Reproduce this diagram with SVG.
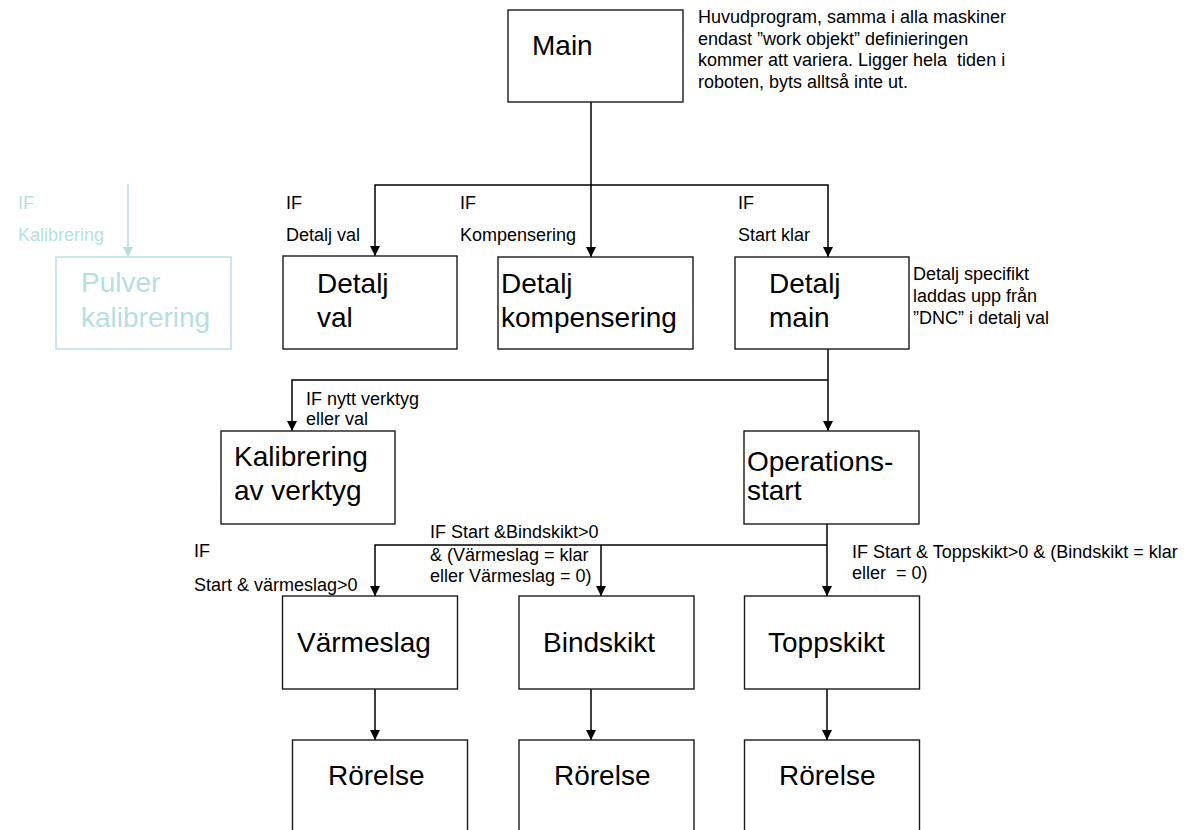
<svg xmlns="http://www.w3.org/2000/svg" width="1187" height="830" viewBox="0 0 1187 830">
  <style>
    .box { fill: #ffffff; stroke: #1a1a1a; stroke-width: 1.4; }
    .box-faint { fill: #ffffff; stroke: #b4dfe3; stroke-width: 1.4; }
    .big { font-family: "Liberation Sans", Arial, sans-serif; font-size: 28px; fill: #000000; }
    .big-faint { font-family: "Liberation Sans", Arial, sans-serif; font-size: 28px; fill: #b4dfe3; }
    .small { font-family: "Liberation Sans", Arial, sans-serif; font-size: 18px; fill: #000000; white-space: pre; }
    .small-faint { font-family: "Liberation Sans", Arial, sans-serif; font-size: 18px; fill: #b4dfe3; }
    .wire { fill: none; stroke: #000000; stroke-width: 1.5; }
    .wire-faint { fill: none; stroke: #b4dfe3; stroke-width: 1.5; }
  </style>
  <defs>
    <marker id="arrow" markerUnits="userSpaceOnUse" markerWidth="10" markerHeight="10" viewBox="0 0 10 10" refX="10" refY="5" orient="auto">
      <path d="M0,0 L10,5 L0,10 Z" fill="#000000"/>
    </marker>
    <marker id="arrow-faint" markerUnits="userSpaceOnUse" markerWidth="10" markerHeight="10" viewBox="0 0 10 10" refX="10" refY="5" orient="auto">
      <path d="M0,0 L10,5 L0,10 Z" fill="#b4dfe3"/>
    </marker>
  </defs>

  <rect width="1187" height="830" fill="#ffffff"/>

  <!-- connectors -->
  <g id="connectors">
    <path class="wire" d="M591,102 V185 H375 V256" marker-end="url(#arrow)"/>
    <path class="wire" d="M591,185 V257" marker-end="url(#arrow)"/>
    <path class="wire" d="M591,185 H828 V257" marker-end="url(#arrow)"/>
    <path class="wire" d="M828,349 V431" marker-end="url(#arrow)"/>
    <path class="wire" d="M828,380 H292 V431" marker-end="url(#arrow)"/>
    <path class="wire" d="M827,524 V596" marker-end="url(#arrow)"/>
    <path class="wire" d="M827,545 H375 V596" marker-end="url(#arrow)"/>
    <path class="wire" d="M601,545 V596" marker-end="url(#arrow)"/>
    <path class="wire" d="M375,689 V740" marker-end="url(#arrow)"/>
    <path class="wire" d="M591,689 V740" marker-end="url(#arrow)"/>
    <path class="wire" d="M827,689 V740" marker-end="url(#arrow)"/>
    <path class="wire-faint" d="M128,184 V257" marker-end="url(#arrow-faint)"/>
  </g>

  <!-- connector conditions -->
  <g id="labels">
    <text class="small" x="286" y="209">IF</text>
    <text class="small" x="286" y="241">Detalj val</text>
    <text class="small" x="460" y="209">IF</text>
    <text class="small" x="460" y="241">Kompensering</text>
    <text class="small" x="738" y="209">IF</text>
    <text class="small" x="738" y="241">Start klar</text>
    <text class="small" x="306" y="405">IF nytt verktyg</text>
    <text class="small" x="306" y="425">eller val</text>
    <text class="small" x="194" y="557">IF</text>
    <text class="small" x="194" y="591">Start &amp; värmeslag&gt;0</text>
    <text class="small" x="430" y="538">IF Start &amp;Bindskikt&gt;0</text>
    <text class="small" x="430" y="561">&amp; (Värmeslag = klar</text>
    <text class="small" x="430" y="582">eller Värmeslag = 0)</text>
    <text class="small" x="852" y="558">IF Start &amp; Toppskikt&gt;0 &amp; (Bindskikt = klar</text>
    <text class="small" x="852" y="579">eller  = 0)</text>
    <text class="small-faint" x="18" y="209">IF</text>
    <text class="small-faint" x="18" y="241">Kalibrering</text>
  </g>

  <!-- notes -->
  <g id="note-main">
    <text class="small" x="698" y="23">Huvudprogram, samma i alla maskiner</text>
    <text class="small" x="698" y="44.5">endast ”work objekt” definieringen</text>
    <text class="small" x="698" y="66">kommer att variera. Ligger hela  tiden i</text>
    <text class="small" x="698" y="87.5">roboten, byts alltså inte ut.</text>
  </g>
  <g id="note-detalj-main">
    <text class="small" x="913" y="280">Detalj specifikt</text>
    <text class="small" x="913" y="302">laddas upp från</text>
    <text class="small" x="913" y="324">”DNC” i detalj val</text>
  </g>

  <!-- nodes -->
  <g id="node-main">
    <rect class="box" x="508" y="10" width="175" height="92"/>
    <text class="big" x="532" y="55">Main</text>
  </g>
  <g id="node-pulver-kalibrering">
    <rect class="box-faint" x="56" y="257" width="175" height="92"/>
    <text class="big-faint" x="81" y="292">Pulver</text>
    <text class="big-faint" x="81" y="327">kalibrering</text>
  </g>
  <g id="node-detalj-val">
    <rect class="box" x="283" y="256" width="174" height="93"/>
    <text class="big" x="317" y="293">Detalj</text>
    <text class="big" x="317" y="327">val</text>
  </g>
  <g id="node-detalj-kompensering">
    <rect class="box" x="498" y="257" width="195" height="92"/>
    <text class="big" x="501" y="293">Detalj</text>
    <text class="big" x="501" y="327">kompensering</text>
  </g>
  <g id="node-detalj-main">
    <rect class="box" x="735" y="257" width="174" height="92"/>
    <text class="big" x="769" y="293">Detalj</text>
    <text class="big" x="769" y="327">main</text>
  </g>
  <g id="node-kalibrering">
    <rect class="box" x="221" y="431" width="174" height="93"/>
    <text class="big" x="234" y="466">Kalibrering</text>
    <text class="big" x="234" y="500">av verktyg</text>
  </g>
  <g id="node-operationsstart">
    <rect class="box" x="744" y="431" width="175" height="93"/>
    <text class="big" x="747" y="471">Operations-</text>
    <text class="big" x="747" y="500">start</text>
  </g>
  <g id="node-varmeslag">
    <rect class="box" x="282.5" y="596" width="175" height="93"/>
    <text class="big" x="297" y="652">Värmeslag</text>
  </g>
  <g id="node-bindskikt">
    <rect class="box" x="519" y="596" width="175" height="93"/>
    <text class="big" x="543" y="652">Bindskikt</text>
  </g>
  <g id="node-toppskikt">
    <rect class="box" x="744.5" y="596" width="175" height="93"/>
    <text class="big" x="768" y="652">Toppskikt</text>
  </g>
  <g id="node-rorelse-1">
    <rect class="box" x="292.5" y="740" width="175" height="120"/>
    <text class="big" x="328" y="785">Rörelse</text>
  </g>
  <g id="node-rorelse-2">
    <rect class="box" x="519" y="740" width="175" height="120"/>
    <text class="big" x="554" y="785">Rörelse</text>
  </g>
  <g id="node-rorelse-3">
    <rect class="box" x="744.5" y="740" width="175" height="120"/>
    <text class="big" x="779" y="785">Rörelse</text>
  </g>
</svg>
